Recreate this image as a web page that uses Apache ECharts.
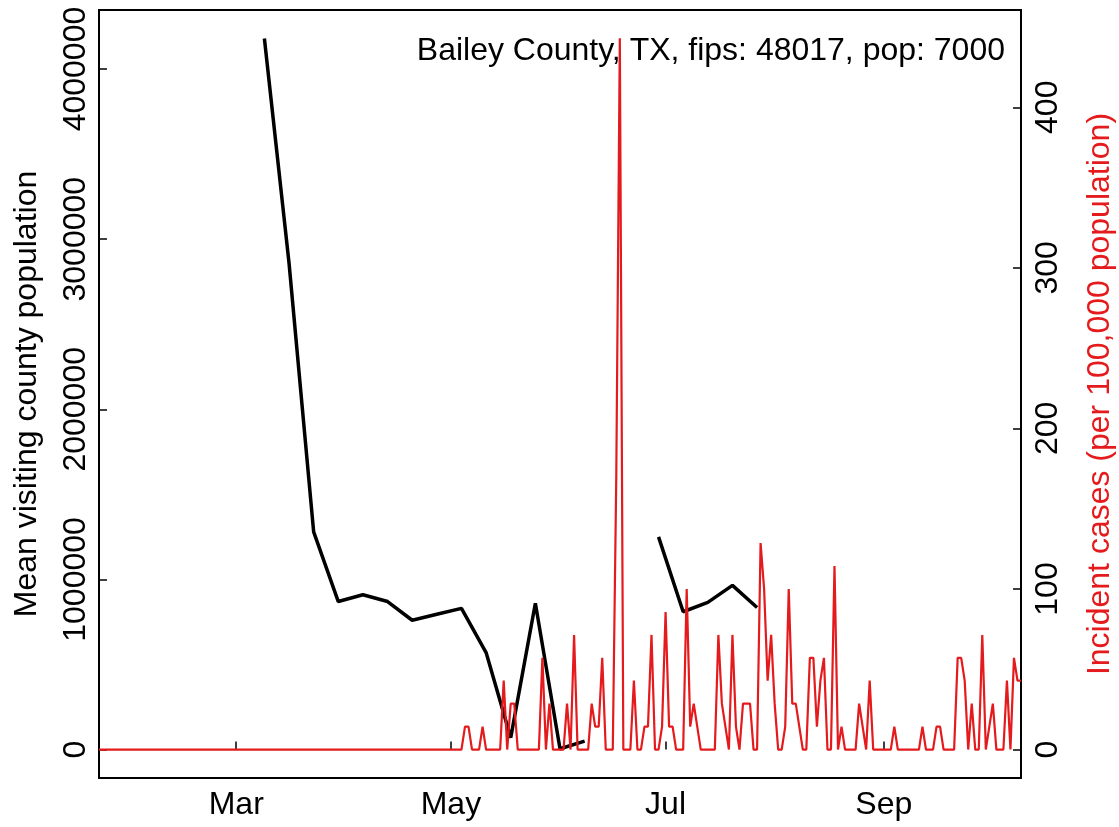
<!DOCTYPE html>
<html>
<head>
<meta charset="utf-8">
<script src="https://cdn.jsdelivr.net/npm/echarts@6.0.0/dist/echarts.min.js"></script>
<style>
  html, body { margin: 0; padding: 0; background: #fff; }
  #chart { width: 1119px; height: 827px; }
</style>
</head>
<body>
<div id="chart"></div>
<script>
// daily incident cases per 100,000, first day 2020-01-22
const caseStart = [2020, 0, 22];
const caseRate = [
  0, 0, 0, 0, 0, 0, 0, 0, 0, 0, 0, 0, 0, 0, 0, 0, 0, 0, 0, 0,
  0, 0, 0, 0, 0, 0, 0, 0, 0, 0, 0, 0, 0, 0, 0, 0, 0, 0, 0, 0,
  0, 0, 0, 0, 0, 0, 0, 0, 0, 0, 0, 0, 0, 0, 0, 0, 0, 0, 0, 0,
  0, 0, 0, 0, 0, 0, 0, 0, 0, 0, 0, 0, 0, 0, 0, 0, 0, 0, 0, 0,
  0, 0, 0, 0, 0, 0, 0, 0, 0, 0, 0, 0, 0, 0, 0, 0, 0, 0, 0, 0,
  // day 100
  0, 0, 0, 0, 14.3, 14.3, 0, 0, 0, 14.3,
  0, 0, 0, 0, 0, 42.9, 0, 28.6, 28.6, 0,
  0, 0, 0, 0, 0, 0, 57.1, 0, 28.6, 0,
  0, 0, 0, 28.6, 0, 71.4, 0, 0, 0, 0,
  28.6, 14.3, 14.3, 57.1, 0, 0, 0, 171.4, 442.9, 0,
  // day 150
  0, 0, 42.9, 0, 0, 14.3, 14.3, 71.4, 0, 0,
  14.3, 85.7, 14.3, 14.3, 0, 0, 0, 100, 14.3, 28.6,
  14.3, 0, 0, 0, 0, 0, 71.4, 28.6, 14.3, 0,
  71.4, 14.3, 0, 28.6, 28.6, 28.6, 0, 0, 128.6, 100,
  42.9, 71.4, 28.6, 0, 0, 14.3, 100, 28.6, 28.6, 14.3,
  // day 200
  0, 0, 57.1, 57.1, 14.3, 42.9, 57.1, 0, 0, 114.3,
  0, 14.3, 0, 0, 0, 0, 28.6, 14.3, 0, 42.9,
  0, 0, 0, 0, 0, 0, 14.3, 0, 0, 0,
  0, 0, 0, 0, 14.3, 0, 0, 0, 14.3, 14.3,
  0, 0, 0, 0, 57.1, 57.1, 42.9, 0, 28.6, 0,
  // day 250
  0, 71.4, 0, 14.3, 28.6, 0, 0, 0, 42.9, 0,
  57.1, 42.9, 42.9
];

// weekly mean visiting county population
const visitWeeks = [
  '2020-03-09', '2020-03-16', '2020-03-23', '2020-03-30', '2020-04-06',
  '2020-04-13', '2020-04-20', '2020-04-27', '2020-05-04', '2020-05-11',
  '2020-05-18', '2020-05-25', '2020-06-01', '2020-06-08', '2020-06-15',
  '2020-06-22', '2020-06-29', '2020-07-06', '2020-07-13', '2020-07-20',
  '2020-07-27'
];
const visitPop = [
  4180000, 2860000, 1280000, 870000, 910000,
  870000, 760000, 795000, 830000, 570000,
  70000, 860000, 5000, 50000, null,
  null, 1250000, 810000, 865000, 965000,
  835000
];

const xTickDates = ['2020-03-01', '2020-05-01', '2020-07-01', '2020-09-01'];
const xTickLabels = ['Mar', 'May', 'Jul', 'Sep'];
const leftTicks = [0, 1000000, 2000000, 3000000, 4000000];
const rightTicks = [0, 100, 200, 300, 400];

const FONT = '"Liberation Sans", Arial, Helvetica, sans-serif';
const FS = 32;
const RED = '#e41a1c';

function toTime(s) {
  const p = s.split('-');
  return new Date(+p[0], +p[1] - 1, +p[2]).getTime();
}
function dayTime(i) {
  return new Date(caseStart[0], caseStart[1], caseStart[2] + i).getTime();
}

const redData = caseRate.map((v, i) => [dayTime(i), v]);
const blackData = visitWeeks.map((d, i) => [toTime(d), visitPop[i]]);
const xTicks = xTickDates.map(toTime);

const chart = echarts.init(document.getElementById('chart'), null, { renderer: 'canvas' });

const option = {
  animation: false,
  backgroundColor: '#fff',
  textStyle: { fontFamily: FONT },
  grid: {
    left: 99, right: 98, top: 10, bottom: 49,
    show: true, borderColor: '#000', borderWidth: 2,
    outerBoundsMode: 'none'
  },
  graphic: [{
    type: 'text',
    right: 114,
    top: 35,
    style: { text: 'Bailey County, TX, fips: 48017, pop: 7000', font: FS + 'px ' + FONT, fill: '#000' }
  }],
  xAxis: {
    type: 'value',
    min: dayTime(0),
    max: dayTime(caseRate.length - 1),
    axisLine: { show: false },
    splitLine: { show: false },
    axisTick: { inside: true, length: 8, customValues: xTicks, lineStyle: { color: '#000', width: 1.5 } },
    axisLabel: {
      customValues: xTicks,
      color: '#000', fontSize: FS, fontFamily: FONT, margin: 11,
      formatter: (v) => {
        let best = 0;
        xTicks.forEach((t, i) => { if (Math.abs(t - v) < Math.abs(xTicks[best] - v)) best = i; });
        return xTickLabels[best];
      }
    }
  },
  yAxis: [
    {
      type: 'value',
      position: 'left',
      min: -167200,
      max: 4347200,
      axisLine: { show: false },
      splitLine: { show: false },
      axisTick: { inside: true, length: 8, customValues: leftTicks, lineStyle: { color: '#000', width: 1.5 } },
      axisLabel: {
        customValues: leftTicks, rotate: 90, margin: 7,
        color: '#000', fontSize: FS, fontFamily: FONT,
        formatter: (v) => String(v)
      },
      name: 'Mean visiting county population',
      nameLocation: 'middle',
      nameRotate: 90,
      nameGap: 56,
      nameTextStyle: { color: '#000', fontSize: FS, fontFamily: FONT }
    },
    {
      type: 'value',
      position: 'right',
      min: -17.71,
      max: 460.57,
      axisLine: { show: false },
      splitLine: { show: false },
      axisTick: { inside: true, length: 8, customValues: rightTicks, lineStyle: { color: '#000', width: 1.5 } },
      axisLabel: {
        customValues: rightTicks, rotate: 90, margin: 11,
        color: '#000', fontSize: FS, fontFamily: FONT,
        formatter: (v) => String(v)
      },
      name: 'Incident cases (per 100,000 population)',
      nameLocation: 'middle',
      nameRotate: 90,
      nameGap: 63,
      nameTextStyle: { color: RED, fontSize: FS, fontFamily: FONT }
    }
  ],
  series: [
    {
      name: 'visits',
      type: 'line',
      yAxisIndex: 0,
      data: blackData,
      symbol: 'none',
      connectNulls: false,
      lineStyle: { color: '#000', width: 3.5 },
      z: 2
    },
    {
      name: 'cases',
      type: 'line',
      yAxisIndex: 1,
      data: redData,
      symbol: 'none',
      lineStyle: { color: RED, width: 2.2 },
      z: 3
    }
  ]
};

chart.setOption(option);
</script>
</body>
</html>
